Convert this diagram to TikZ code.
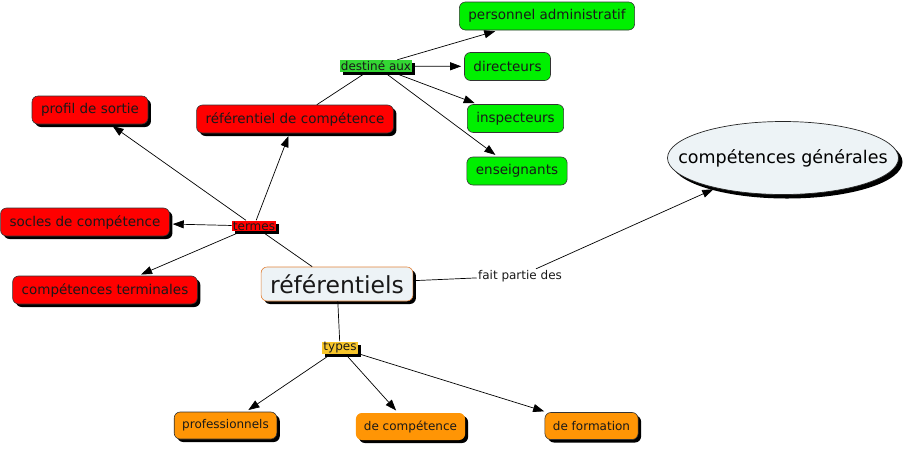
\documentclass[tikz,border=0pt]{standalone}
\usepackage{fontspec}
\setmainfont{DejaVu Sans}
\usetikzlibrary{arrows.meta,shapes.geometric,shadows}

\definecolor{cmaprouge}{HTML}{FF0000}
\definecolor{cmapvert}{HTML}{00F000}
\definecolor{cmaporange}{HTML}{FF9505}
\definecolor{lienvert}{HTML}{33D633}
\definecolor{lienjaune}{HTML}{F7C52A}
\definecolor{cmapfond}{HTML}{EDF3F6}
\definecolor{cmapbord}{HTML}{E0823A}

\begin{document}
\begin{tikzpicture}[x=1pt,y=-1pt,
    ombre/.style={drop shadow={shadow xshift=3pt,shadow yshift=-3pt,fill=black,opacity=1}},
    concept/.style={rectangle,rounded corners=6pt,draw=black!80,line width=0.6pt,inner xsep=9pt,minimum height=28pt,text=black!90,font=\fontsize{13.5}{16}\selectfont},
    termebox/.style={concept,fill=cmaprouge,ombre},
    publicbox/.style={concept,fill=cmapvert},
    typebox/.style={concept,fill=cmaporange,ombre,inner xsep=8pt,minimum height=27pt,font=\fontsize{12}{14}\selectfont},
    lien/.style={inner sep=1pt,text=black!90,font=\fontsize{12}{14}\selectfont},
    fleche/.style={-{Triangle[length=11pt,width=8pt]},shorten >=3pt},
    every path/.style={line width=0.7pt}]
  \useasboundingbox (0,0) rectangle (908,448);

  % concepts
  \node[concept,fill=cmapfond,draw=cmapbord,inner xsep=9pt,minimum height=34pt,inner ysep=0pt,font=\fontsize{23.5}{26}\selectfont,ombre] (refs) at (337,284) {référentiels};
  \node[draw=black!85,fill=cmapfond,ellipse,minimum width=231pt,minimum height=73pt,inner sep=0pt,font=\fontsize{17.5}{20}\selectfont,drop shadow={shadow xshift=4pt,shadow yshift=-4pt,fill=black,opacity=1}] (compgen) at (783,158) {\makebox[0pt]{compétences générales}};

  \node[termebox] (profil) at (90,110) {profil de sortie};
  \node[termebox] (refcomp) at (295,119) {référentiel de compétence};
  \node[termebox] (socles) at (85,222) {socles de compétence};
  \node[termebox] (compterm) at (105,290) {compétences terminales};

  \node[publicbox] (padm) at (547,16) {personnel administratif};
  \node[publicbox] (dirs) at (507.5,66.5) {directeurs};
  \node[publicbox] (insp) at (515.5,118.5) {inspecteurs};
  \node[publicbox] (ens) at (517,171) {enseignants};

  \node[typebox] (prof) at (225.5,425.5) {professionnels};
  \node[typebox,draw=none] (decomp) at (410.5,426.5) {de compétence};
  \node[typebox] (deform) at (591.5,426) {de formation};

  % mots de liaison
  \node[lien,fill=cmaprouge,ombre] (termes) at (254,226) {termes};
  \node[lien,fill=lienvert,ombre] (destine) at (376,66) {destiné aux};
  \node[lien,fill=lienjaune,ombre] (types) at (340,348) {types};
  \node[lien] (fpd) at (520,276) {fait partie des};

  % liens
  \draw (refs) -- (termes);
  \draw[fleche] (termes) -- (profil);
  \draw[fleche] (termes) -- (refcomp);
  \draw[fleche] (termes) -- (socles);
  \draw[fleche] (termes) -- (compterm);

  \draw (refcomp) -- (destine);
  \draw[fleche] (destine) -- (padm);
  \draw[fleche] (destine) -- (dirs);
  \draw[fleche] (destine) -- (insp);
  \draw[fleche] (destine) -- (ens);

  \draw (refs) -- (fpd);
  \draw[fleche] (fpd) -- (compgen);

  \draw (refs) -- (types);
  \draw[fleche] (types) -- (prof);
  \draw[fleche] (types) -- (decomp);
  \draw[fleche] (types) -- (deform);
\end{tikzpicture}
\end{document}
